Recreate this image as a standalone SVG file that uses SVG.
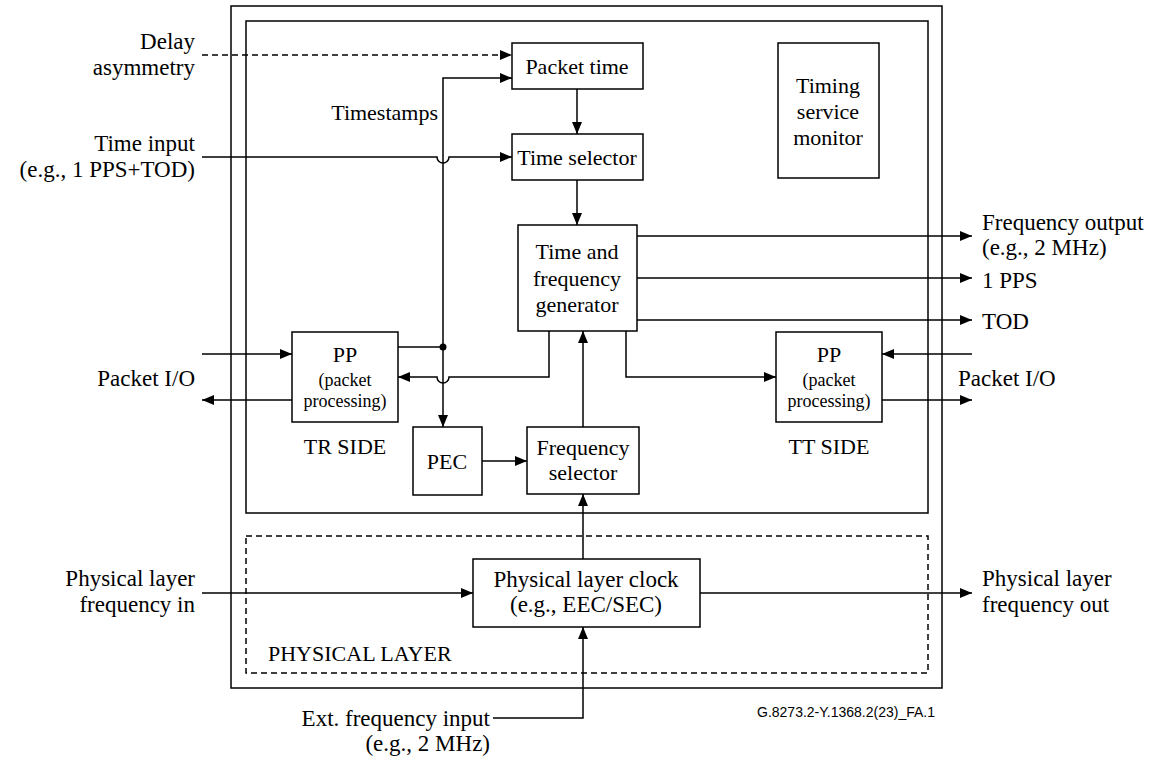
<svg xmlns="http://www.w3.org/2000/svg" width="1156" height="762" viewBox="0 0 1156 762">
<defs>
<marker id="ah" viewBox="0 0 12 10" refX="12" refY="5" markerWidth="12" markerHeight="10" markerUnits="userSpaceOnUse" orient="auto"><path d="M0,0 L12,5 L0,10 Z" fill="#000"/></marker>
</defs>
<style>
.t{font-family:"Liberation Serif","Times New Roman",serif;font-size:22px;fill:#000}
.l{font-size:23px}
.s{font-family:"Liberation Serif","Times New Roman",serif;font-size:18px;fill:#000}
.m{text-anchor:middle}
.e{text-anchor:end}
.b{fill:#fff;stroke:#000;stroke-width:1.5}
.c{fill:none;stroke:#000;stroke-width:1.5}
.a{marker-end:url(#ah)}
</style>
<rect width="1156" height="762" fill="#fff"/>
<g id="frame">
<rect x="231" y="6" width="711" height="682" class="c"/>
<rect x="246" y="21" width="682" height="492" class="c"/>
<rect x="246" y="536" width="682" height="137" class="c" stroke-dasharray="6,4"/>
<text x="268" y="661" class="t">PHYSICAL LAYER</text>
</g>
<g id="connectors">
<path d="M202,55 H512" class="c a" stroke-dasharray="6,4"/>
<path d="M443,347 V78 H512" class="c a"/>
<path d="M443,347 V427" class="c a"/>
<path d="M398,347 H443" class="c"/>
<circle cx="443" cy="347" r="3.5" fill="#000"/>
<path d="M202,157 H437 A6,6 0 0 0 449,157 H512" class="c a"/>
<path d="M577,89 V134" class="c a"/>
<path d="M577,180 V225" class="c a"/>
<path d="M637,236 H972" class="c a"/>
<path d="M637,278 H972" class="c a"/>
<path d="M637,320 H972" class="c a"/>
<path d="M549,331 V377 H449 A6,6 0 0 1 437,377 H398" class="c a"/>
<path d="M626,331 V377 H776" class="c a"/>
<path d="M583,427 V331" class="c a"/>
<path d="M482,461 H527" class="c a"/>
<path d="M583,559 V494" class="c a"/>
<path d="M202,354 H292" class="c a"/>
<path d="M292,400 H202" class="c a"/>
<path d="M972,354 H882" class="c a"/>
<path d="M882,400 H972" class="c a"/>
<path d="M202,593 H473" class="c a"/>
<path d="M700,593 H972" class="c a"/>
<path d="M493,718 H583 V627" class="c a"/>
</g>
<g id="packet-time"><rect x="512" y="43" width="131" height="46" class="b"/><text x="577" y="74" class="t m">Packet time</text></g>
<g id="timing-monitor"><rect x="778" y="43" width="101" height="135" class="b"/><text x="828" y="93" class="t m">Timing</text><text x="828" y="119" class="t m">service</text><text x="828" y="145" class="t m">monitor</text></g>
<g id="time-selector"><rect x="512" y="134" width="131" height="46" class="b"/><text x="577" y="165" class="t m">Time selector</text></g>
<g id="tfg"><rect x="518" y="225" width="119" height="106" class="b"/><text x="577" y="259" class="t m">Time and</text><text x="577" y="286" class="t m">frequency</text><text x="577" y="312" class="t m">generator</text></g>
<g id="pp-tr"><rect x="292" y="332" width="106" height="90" class="b"/><text x="345" y="362" class="t m">PP</text><text x="345" y="386" class="s m">(packet</text><text x="345" y="407" class="s m">processing)</text><text x="345" y="454" class="t m">TR SIDE</text></g>
<g id="pp-tt"><rect x="776" y="332" width="106" height="90" class="b"/><text x="829" y="362" class="t m">PP</text><text x="829" y="386" class="s m">(packet</text><text x="829" y="407" class="s m">processing)</text><text x="829" y="454" class="t m">TT SIDE</text></g>
<g id="pec"><rect x="413" y="427" width="69" height="68" class="b"/><text x="447" y="469" class="t m">PEC</text></g>
<g id="freq-selector"><rect x="527" y="427" width="112" height="67" class="b"/><text x="583" y="455" class="t m">Frequency</text><text x="583" y="480" class="t m">selector</text></g>
<g id="phys-clock"><rect x="473" y="559" width="227" height="68" class="b"/><text x="586" y="587" class="t l m">Physical layer clock</text><text x="586" y="612" class="t l m">(e.g., EEC/SEC)</text></g>
<g id="labels">
<text x="195" y="49" class="t l e">Delay</text>
<text x="195" y="75" class="t l e">asymmetry</text>
<text x="195" y="151" class="t l e">Time input</text>
<text x="195" y="177" class="t l e">(e.g., 1 PPS+TOD)</text>
<text x="438" y="120" class="t e">Timestamps</text>
<text x="195" y="386" class="t l e">Packet I/O</text>
<text x="195" y="586" class="t l e">Physical layer</text>
<text x="195" y="612" class="t l e">frequency in</text>
<text x="982" y="230" class="t l">Frequency output</text>
<text x="982" y="255" class="t l">(e.g., 2 MHz)</text>
<text x="982" y="288" class="t l">1 PPS</text>
<text x="982" y="329" class="t l">TOD</text>
<text x="958" y="386" class="t l">Packet I/O</text>
<text x="982" y="586" class="t l">Physical layer</text>
<text x="982" y="612" class="t l">frequency out</text>
<text x="490" y="726" class="t l e">Ext. frequency input</text>
<text x="490" y="751" class="t l e">(e.g., 2 MHz)</text>
<text x="935" y="717" font-family="Liberation Sans,Arial,sans-serif" font-size="14" text-anchor="end">G.8273.2-Y.1368.2(23)_FA.1</text>
</g>
</svg>
